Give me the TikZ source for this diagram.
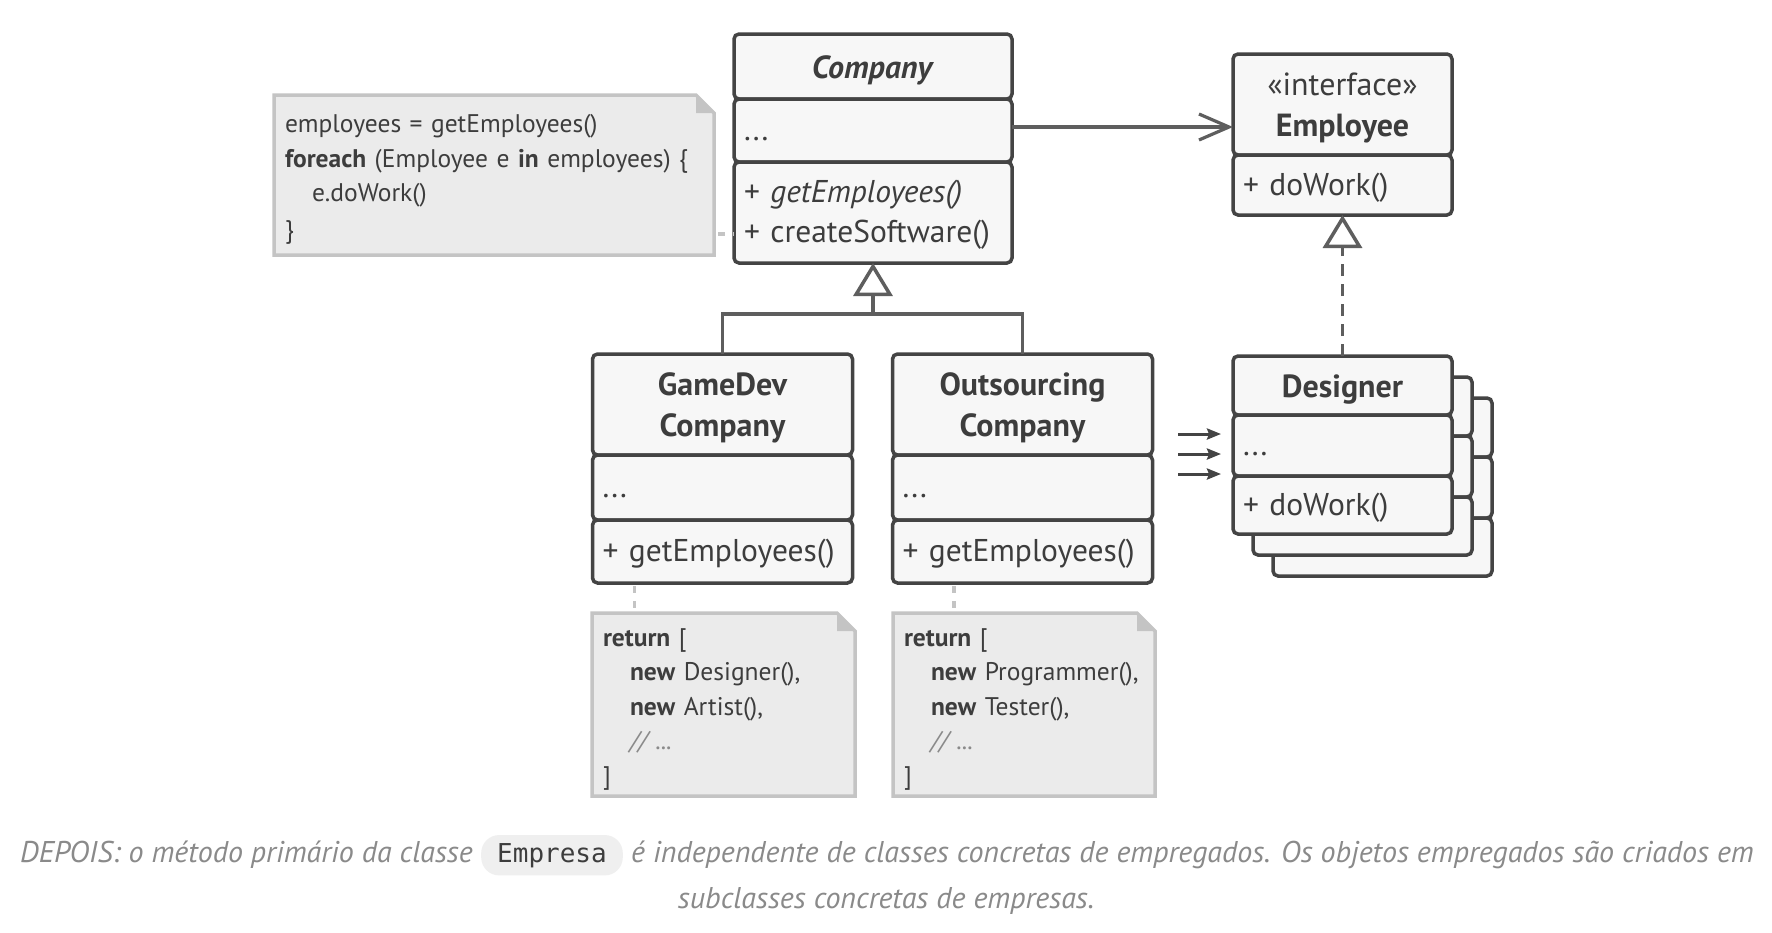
\documentclass[tikz,border=0pt]{standalone}
\usepackage{fontspec}
\setmainfont{PT Sans}
\newfontfamily\codefont{DejaVu Sans Mono}
\usetikzlibrary{positioning,arrows.meta}
\definecolor{umlline}{HTML}{444444}
\definecolor{umlfill}{HTML}{F7F7F7}
\definecolor{umltext}{HTML}{3D3D3D}
\definecolor{linkgray}{HTML}{5E5E5E}
\definecolor{notefill}{HTML}{EBEBEB}
\definecolor{noteline}{HTML}{C4C4C4}
\definecolor{commentgray}{HTML}{8A8A8A}
\definecolor{captiongray}{HTML}{8A8A8A}
\definecolor{codefill}{HTML}{EFEFEF}

\begin{document}
\begin{tikzpicture}[
    x=1pt, y=-1pt,
    classpart/.style={draw=umlline, fill=umlfill, line width=3.5pt, rounded corners=5pt,
                      outer sep=0pt, inner xsep=10pt, inner ysep=0pt, text width=#1,
                      align=left, text=umltext, font=\fontsize{31.5}{39.5}\selectfont},
    classbody/.style={classpart=#1,
                      execute at begin node={\rule[-9pt]{0pt}{38pt}},
                      execute at end node={\rule[-9pt]{0pt}{38pt}}},
    classhead/.style={classpart=#1, align=center, font=\fontsize{32}{41}\selectfont\bfseries,
                      execute at begin node={\rule[-9pt]{0pt}{41pt}},
                      execute at end node={\rule[-9pt]{0pt}{41pt}}},
    memo/.style={fill=notefill, outer sep=0pt, inner xsep=11pt, inner ysep=0pt, text width=#1,
                 align=left, text=umltext,
                 font={\fontsize{25.5}{34.5}\selectfont\hyphenpenalty=10000},
                 execute at begin node={\rule[-9pt]{0pt}{39pt}},
                 execute at end node={\rule[-9pt]{0pt}{39pt}}},
    memoline/.style={draw=noteline, line width=3.5pt, line join=miter},
    memolink/.style={draw=noteline, line width=3.5pt, dash pattern=on 7pt off 8pt},
    gen/.style={draw=linkgray, line width=3.5pt},
    hollow/.style={-{Triangle[length=33pt, width=39pt, fill=white]}},
    real/.style={gen, dash pattern=on 12pt off 8pt},
    assoc/.style={draw=linkgray, line width=3.2pt, -{Straight Barb[length=30pt, width=26pt]}},
    feed/.style={draw=umlline, line width=3pt, -{Stealth[length=14pt, width=11pt, inset=2pt]}},
    caption/.style={inner sep=0pt, text=captiongray, font=\fontsize{30}{34}\selectfont\itshape},
    codebox/.style={fill=codefill, rounded corners=18pt, inner xsep=16pt, inner ysep=8pt,
                    text=umltext, font=\codefont\fontsize{26}{26}\selectfont}
]
    \fill[white] (0,0) rectangle (1772,932);
    \useasboundingbox (0,0) rectangle (1772,932);

    % Company (abstract creator)
    \node[classhead=258pt, minimum height=65pt, anchor=north] (comphead) at (873,34) {\textit{Company}};
    \node[classbody=258pt, minimum height=63pt, below=0pt of comphead] (compattr) {...};
    \node[classbody=258pt, minimum height=101pt, below=0pt of compattr] (compops)
        {+ \textit{getEmployees()}\\+ createSoftware()};

    % Employee interface
    \node[classhead=199pt, minimum height=101pt, anchor=north] (emphead) at (1342.5,54)
        {\mdseries «interface»\\\bfseries Employee};
    \node[classbody=199pt, minimum height=60pt, below=0pt of emphead] (empops) {+ doWork()};

    % Concrete companies
    \node[classhead=240pt, minimum height=101pt, anchor=north] (gdhead) at (722.5,354) {GameDev\\Company};
    \node[classbody=240pt, minimum height=65pt, below=0pt of gdhead] (gdattr) {...};
    \node[classbody=240pt, minimum height=63pt, below=0pt of gdattr] (gdops) {+ getEmployees()};

    \node[classhead=240pt, minimum height=101pt, anchor=north] (oshead) at (1022.5,354) {Outsourcing\\Company};
    \node[classbody=240pt, minimum height=65pt, below=0pt of oshead] (osattr) {...};
    \node[classbody=240pt, minimum height=63pt, below=0pt of osattr] (osops) {+ getEmployees()};

    % Designer stack (copies behind)
    \foreach \dx/\dy/\k in {40/42/c, 20/21/b} {
        \node[classpart=199pt, minimum height=59pt, anchor=north] (dshead\k) at (1342.5+\dx,356+\dy) {};
        \node[classpart=199pt, minimum height=61pt, below=0pt of dshead\k] (dsattr\k) {};
        \node[classpart=199pt, minimum height=58pt, below=0pt of dsattr\k] (dsops\k) {};
    }
    \node[classhead=199pt, minimum height=59pt, anchor=north] (dshead) at (1342.5,356) {Designer};
    \node[classbody=199pt, minimum height=61pt, below=0pt of dshead] (dsattr) {...};
    \node[classbody=199pt, minimum height=58pt, below=0pt of dsattr] (dsops) {+ doWork()};

    % Notes
    \node[memo=418pt, minimum height=160pt] (memoa) at (494,175)
        {employees = getEmployees()\\
         \textbf{foreach} (Employee e \textbf{in} employees) \{\\
         \hspace*{27pt}e.doWork()\\
         \}};
    \node[memo=241pt, minimum height=183pt] (memob) at (723.5,704.5)
        {\textbf{return} [\\
         \hspace*{27pt}\textbf{new} Designer(),\\
         \hspace*{27pt}\textbf{new} Artist(),\\
         \hspace*{27pt}\textcolor{commentgray}{\textit{// ...}}\\
         ]};
    \node[memo=240pt, minimum height=183pt] (memoc) at (1024,704.5)
        {\textbf{return} [\\
         \hspace*{27pt}\textbf{new} Programmer(),\\
         \hspace*{27pt}\textbf{new} Tester(),\\
         \hspace*{27pt}\textcolor{commentgray}{\textit{// ...}}\\
         ]};
    \foreach \n in {memoa, memob, memoc} {
        \fill[white] ([xshift=-18pt]\n.north east) -- (\n.north east) -- ([yshift=-18pt]\n.north east) -- cycle;
        \draw[memoline] (\n.north west) -- ([xshift=-18pt]\n.north east) -- ([yshift=-18pt]\n.north east)
            -- (\n.south east) -- (\n.south west) -- cycle;
        \fill[noteline] ([xshift=-18pt]\n.north east) -- ([xshift=-18pt,yshift=-18pt]\n.north east)
            -- ([yshift=-18pt]\n.north east) -- cycle;
    }

    % Note links
    \draw[memolink] ([xshift=4pt,yshift=-59pt]memoa.east) -- ([yshift=-59pt]memoa.east -| compops.west);
    \draw[memolink] ([xshift=42pt,yshift=-3pt]gdops.south west) -- ([xshift=42pt]gdops.south west |- memob.north);
    \draw[memolink] ([xshift=61.5pt,yshift=-3pt]osops.south west) -- ([xshift=61.5pt]osops.south west |- memoc.north);

    % Relations
    \draw[assoc] ([yshift=3.5pt]compattr.east) -- ([yshift=3.5pt]compattr.east -| emphead.west);
    \coordinate (fork) at (873,314);
    \draw[gen] (gdhead.north) |- (fork) -| (oshead.north);
    \draw[gen, hollow] (fork) -- (compops.south);
    \draw[real, hollow] (dshead.north) -- (empops.south);
    \foreach \y [count=\i] in {434,454,474} {
        \coordinate (feed\i) at (1178,\y);
        \draw[feed] (feed\i) -- ([xshift=-12pt]feed\i -| dsattr.west);
    }

    % Caption
    \node[caption, anchor=base west] (capa) at (20,862) {DEPOIS: o método primário da classe};
    \node[codebox, anchor=base west] (capcode) at ([xshift=8pt]capa.base east) {Empresa};
    \node[caption, anchor=base west] (capb) at ([xshift=8pt]capcode.base east)
        {é independente de classes concretas de empregados. Os objetos empregados são criados em};
    \node[caption, anchor=base] (capc) at (886,908) {subclasses concretas de empresas.};
\end{tikzpicture}
\end{document}
